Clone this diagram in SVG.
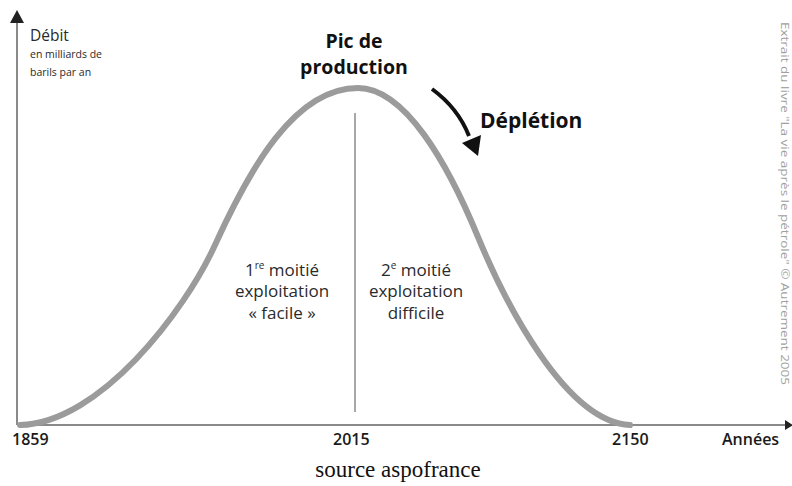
<svg xmlns="http://www.w3.org/2000/svg" width="792" height="486" viewBox="0 0 792 486">
<style>
.ax{stroke:#8a8a8a;stroke-width:2;fill:none}
.lbl{font-family:"Open Sans","Liberation Sans",sans-serif;fill:#2a2a2a}
.b{font-weight:bold;fill:#111}
.yr{font-family:"Open Sans","Liberation Sans",sans-serif;font-weight:600;font-size:16px;fill:#1a1a1a}
.mid{font-family:"Open Sans","Liberation Sans",sans-serif;font-size:17px;fill:#2a2a2a;text-anchor:middle}
</style>
<rect width="792" height="486" fill="#fff"/>
<g id="axes">
<line class="ax" x1="17" y1="425" x2="17" y2="22"/>
<polygon points="17,10 10,23 24,23" fill="#222"/>
<line class="ax" x1="17" y1="425" x2="786" y2="425"/>
<polygon points="793,425 785,420 785,430" fill="#222"/>
</g>
<g id="curve">
<path d="M 20 425 C 100 423, 185 311, 215 245 C 250 168, 295 88, 358 88 C 405 88, 448 164, 478 237 C 504 300, 565 422, 630 425" fill="none" stroke="#9b9b9b" stroke-width="6" stroke-linecap="round"/>
<line x1="355" y1="113" x2="355" y2="412" stroke="#8a8a8a" stroke-width="1.5"/>
</g>
<g id="y-label" class="lbl">
<text x="30" y="41" font-size="15.5">Débit</text>
<text x="30" y="58" font-size="10.5">en milliards de</text>
<text x="30" y="76" font-size="10.5">barils par an</text>
</g>
<g id="peak-label" class="lbl b" text-anchor="middle">
<text x="354" y="48" font-size="19.5">Pic de</text>
<text x="354" y="74" font-size="19.5">production</text>
</g>
<g id="depletion">
<path d="M 432 89 Q 458 108 469 136" fill="none" stroke="#111" stroke-width="4"/>
<polygon points="478,156 462,143 481,135" fill="#111"/>
<text class="lbl b" x="480" y="128" font-size="21">Déplétion</text>
</g>
<g id="first-half">
<text class="mid" x="282" y="276">1<tspan font-size="10" dy="-7">re</tspan><tspan dy="7"> moitié</tspan></text>
<text class="mid" x="282" y="297">exploitation</text>
<text class="mid" x="282" y="319">« facile »</text>
</g>
<g id="second-half">
<text class="mid" x="416" y="276">2<tspan font-size="10" dy="-7">e</tspan><tspan dy="7"> moitié</tspan></text>
<text class="mid" x="416" y="297">exploitation</text>
<text class="mid" x="416" y="319">difficile</text>
</g>
<g id="years">
<text class="yr" x="12" y="445">1859</text>
<text class="yr" x="333" y="445">2015</text>
<text class="yr" x="612" y="445">2150</text>
<text class="yr" x="722" y="445">Années</text>
</g>
<text x="398" y="477" font-family="'Liberation Serif',serif" font-size="23" fill="#111" text-anchor="middle">source aspofrance</text>
<text transform="translate(781,22) rotate(90)" font-family="'Open Sans','Liberation Sans',sans-serif" font-size="11" fill="#a0a0a0" textLength="363" lengthAdjust="spacingAndGlyphs">Extrait du livre "La vie après le pétrole" © Autrement 2005</text>
</svg>
